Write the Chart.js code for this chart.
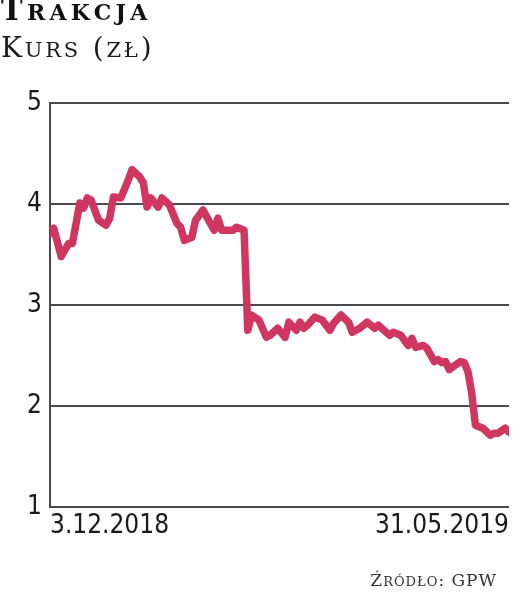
<!DOCTYPE html>
<html>
<head>
<meta charset="utf-8">
<script src="https://cdn.jsdelivr.net/npm/chart.js@4/dist/chart.umd.min.js"></script>
<style>
  html, body { margin: 0; padding: 0; background: #fff; }
  #wrap { position: relative; width: 520px; height: 593px; overflow: hidden; background: #fff; }
  #c { position: absolute; left: 0; top: 0; }
  .title, .sub, .src { position: absolute; font-family: "DejaVu Serif", serif; color: #1a1a1a; white-space: nowrap; line-height: 1; }
  .title { left: 1px; top: -4px; font-weight: bold; font-size: 29px; letter-spacing: 4.3px; color: #111; }
  .title .sc { font-size: 22px; }
  .sub { left: 1px; top: 34px; font-size: 28px; letter-spacing: 2.8px; }
  .sub .sc { font-size: 21px; }
  .src { right: 23px; top: 572px; font-size: 17px; letter-spacing: 1px; color: #333; }
  .src .sc { font-size: 13px; }
</style>
</head>
<body>
<div id="wrap">
  <canvas id="c" width="520" height="593"></canvas>
  <div class="title">T<span class="sc">RAKCJA</span></div>
  <div class="sub">K<span class="sc">URS</span> (<span class="sc">ZŁ</span>)</div>
  <div class="src">Ź<span class="sc">RÓDŁO</span>: GPW</div>
</div>
<script>
// trading-day index since 3.12.2018
const days = [0,1,3,5,6,8,9,10,11,13,15,16,17,19,21,22,24,25,26,27,29,30,32,34,35,36,38,39,41,44,45,46,49,50,52,53,54,56,58,59,61,63,64,66,67,68,69,71,73,75,76,78,80,81,83,85,87,88,91,92,94,96,97,98,100,101,103,104,105,106,107,108,110,111,112,113,114,116,118,119,120,122,123];
const prices = [3.71,3.76,3.48,3.61,3.61,4.01,3.96,4.06,4.04,3.84,3.79,3.86,4.07,4.06,4.24,4.34,4.27,4.21,3.97,4.06,3.97,4.06,3.99,3.81,3.77,3.64,3.67,3.84,3.94,3.74,3.86,3.74,3.74,3.77,3.74,2.75,2.90,2.85,2.68,2.70,2.77,2.68,2.83,2.75,2.83,2.77,2.80,2.88,2.85,2.75,2.82,2.90,2.83,2.73,2.77,2.83,2.77,2.80,2.70,2.73,2.70,2.60,2.67,2.58,2.60,2.57,2.44,2.46,2.43,2.44,2.36,2.39,2.44,2.43,2.34,2.13,1.81,1.78,1.71,1.73,1.73,1.78,1.74];
const xTickDays = [0, 123];
const xTickLabels = ["3.12.2018", "31.05.2019"];
const yTicks = [1, 2, 3, 4, 5];

const points = days.map((d, i) => ({ x: d, y: prices[i] }));

new Chart(document.getElementById('c'), {
  type: 'line',
  data: {
    datasets: [{
      data: points,
      borderColor: '#cf3660',
      borderWidth: 7.5,
      pointRadius: 0,
      tension: 0,
      borderJoinStyle: 'round',
      borderCapStyle: 'round',
      fill: false
    }]
  },
  options: {
    responsive: false,
    animation: false,
    devicePixelRatio: 1,
    layout: { padding: { top: 103, right: 11, left: 0, bottom: 0 } },
    plugins: { legend: { display: false }, tooltip: { enabled: false } },
    scales: {
      x: {
        type: 'linear',
        min: xTickDays[0],
        max: xTickDays[xTickDays.length - 1],
        afterBuildTicks: (s) => { s.ticks = xTickDays.map(v => ({ value: v })); },
        afterFit: (s) => { s.height = 86; },
        grid: { display: false, drawTicks: false },
        border: { display: false },
        ticks: {
          align: 'inner',
          padding: 4,
          maxRotation: 0,
          color: '#1a1a1a',
          font: { family: '"DejaVu Sans Condensed", "DejaVu Sans"', size: 26 },
          callback: (v) => { const i = xTickDays.indexOf(v); return i >= 0 ? xTickLabels[i] : ''; }
        }
      },
      y: {
        min: 1,
        max: 5,
        afterBuildTicks: (s) => { s.ticks = yTicks.map(v => ({ value: v })); },
        afterFit: (s) => { s.width = 50; },
        grid: { color: '#4a4a4a', lineWidth: 2, drawTicks: false },
        border: { display: true, color: '#4a4a4a', width: 2 },
        ticks: {
          padding: 8,
          color: '#1a1a1a',
          font: { family: '"DejaVu Sans Condensed", "DejaVu Sans"', size: 26 }
        }
      }
    }
  }
});
</script>
</body>
</html>
